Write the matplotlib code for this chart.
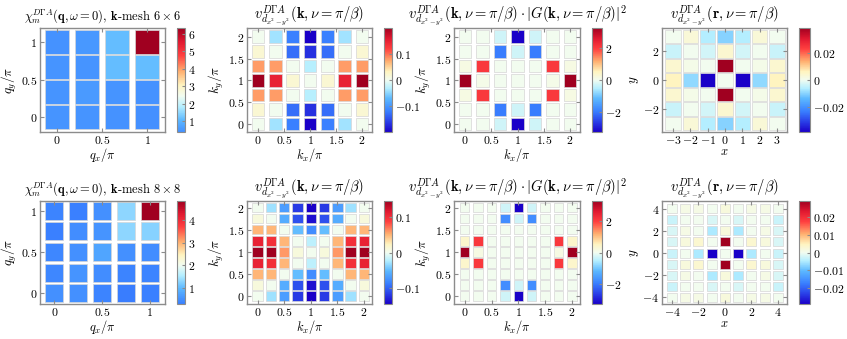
import numpy as np
import matplotlib
matplotlib.use("Agg")
import matplotlib.pyplot as plt
from matplotlib.colors import LinearSegmentedColormap, Normalize
from matplotlib.path import Path
from matplotlib.ticker import FuncFormatter

plt.rcParams['mathtext.fontset'] = 'cm'
plt.rcParams['font.family'] = 'serif'
plt.rcParams['font.serif'] = ['cmr10', 'DejaVu Serif']

# ---- data (rows listed top -> bottom, as seen in the picture) ----
q6 = [0, 1/3, 2/3, 1]
chi6 = [[0.40, 0.50, 1.10, 6.34],
        [0.45, 0.45, 1.10, 1.10],
        [0.45, 0.55, 0.45, 0.42],
        [0.45, 0.45, 0.42, 0.37]]

k6 = [0, 1/3, 2/3, 1, 4/3, 5/3, 2]
v6 = [[0.00, -0.04, -0.12, -0.20, -0.12, -0.04, 0.00],
      [0.02, 0.00, -0.13, -0.17, -0.13, 0.00, 0.02],
      [0.08, 0.08, 0.00, -0.03, 0.00, 0.08, 0.08],
      [0.20, 0.15, 0.02, 0.00, 0.02, 0.15, 0.20],
      [0.08, 0.08, 0.00, -0.03, 0.00, 0.08, 0.08],
      [0.02, 0.00, -0.13, -0.17, -0.13, 0.00, 0.02],
      [0.00, -0.04, -0.12, -0.20, -0.12, -0.04, 0.00]]

vg6 = [[0.0, 0.0, -0.3, -3.3, -0.3, 0.0, 0.0],
       [0.0, 0.0, -2.0, -0.3, -2.0, 0.0, 0.0],
       [0.15, 2.1, 0.0, 0.0, 0.0, 2.1, 0.15],
       [3.3, 0.1, 0.0, 0.0, 0.0, 0.1, 3.3],
       [0.15, 2.1, 0.0, 0.0, 0.0, 2.1, 0.15],
       [0.0, 0.0, -2.0, -0.3, -2.0, 0.0, 0.0],
       [0.0, 0.0, -0.3, -3.3, -0.3, 0.0, 0.0]]

r6 = [-3, -2, -1, 0, 1, 2, 3]
vr6 = [[0.000, 0.003, -0.006, -0.010, -0.006, 0.003, 0.000],
       [-0.004, 0.000, -0.003, 0.004, -0.003, 0.000, -0.004],
       [0.004, 0.001, 0.000, 0.038, 0.000, 0.001, 0.004],
       [0.006, -0.009, -0.038, 0.000, -0.038, -0.009, 0.006],
       [0.004, 0.001, 0.000, 0.038, 0.000, 0.001, 0.004],
       [-0.004, 0.000, -0.003, 0.004, -0.003, 0.000, -0.004],
       [0.000, 0.003, -0.006, -0.010, -0.006, 0.003, 0.000]]

q8 = [0, 0.25, 0.5, 0.75, 1]
chi8 = [[0.35, 0.30, 0.50, 1.30, 4.84],
        [0.30, 0.45, 0.55, 1.30, 1.25],
        [0.40, 0.50, 0.75, 0.50, 0.45],
        [0.40, 0.55, 0.45, 0.35, 0.35],
        [0.50, 0.50, 0.35, 0.29, 0.30]]

k8 = [0, 0.25, 0.5, 0.75, 1, 1.25, 1.5, 1.75, 2]
v8 = [[0.00, -0.03, -0.07, -0.12, -0.147, -0.12, -0.07, -0.03, 0.00],
      [0.01, 0.00, -0.06, -0.11, -0.14, -0.11, -0.06, 0.00, 0.01],
      [0.05, 0.05, 0.00, -0.05, -0.08, -0.05, 0.00, 0.05, 0.05],
      [0.11, 0.10, 0.05, 0.00, -0.02, 0.00, 0.05, 0.10, 0.11],
      [0.147, 0.147, 0.06, 0.01, 0.00, 0.01, 0.06, 0.147, 0.147],
      [0.11, 0.10, 0.05, 0.00, -0.02, 0.00, 0.05, 0.10, 0.11],
      [0.05, 0.05, 0.00, -0.05, -0.08, -0.05, 0.00, 0.05, 0.05],
      [0.01, 0.00, -0.06, -0.11, -0.14, -0.11, -0.06, 0.00, 0.01],
      [0.00, -0.03, -0.07, -0.12, -0.147, -0.12, -0.07, -0.03, 0.00]]

vg8 = [[0, 0, 0, -0.3, -3.3, -0.3, 0, 0, 0],
       [0, 0, 0, -1.8, -0.3, -1.8, 0, 0, 0],
       [0, 0, 0, 0, 0, 0, 0, 0, 0],
       [0.4, 2.1, 0, 0, 0, 0, 0, 2.1, 0.4],
       [3.3, 0.15, 0, 0, 0, 0, 0, 0.15, 3.3],
       [0.4, 2.1, 0, 0, 0, 0, 0, 2.1, 0.4],
       [0, 0, 0, 0, 0, 0, 0, 0, 0],
       [0, 0, 0, -1.8, -0.3, -1.8, 0, 0, 0],
       [0, 0, 0, -0.3, -3.3, -0.3, 0, 0, 0]]

r8 = [-4, -3, -2, -1, 0, 1, 2, 3, 4]
vr8 = [[0.000, 0.001, 0.001, 0.000, 0.002, 0.000, 0.001, 0.001, 0.000],
       [-0.003, 0.000, 0.000, -0.002, 0.000, -0.002, 0.000, 0.000, -0.003],
       [-0.002, 0.001, 0.000, -0.005, 0.002, -0.005, 0.000, 0.001, -0.002],
       [-0.002, 0.002, 0.003, 0.000, 0.029, 0.000, 0.003, 0.002, -0.002],
       [-0.003, 0.000, -0.005, -0.029, 0.000, -0.029, -0.005, 0.000, -0.003],
       [-0.002, 0.002, 0.003, 0.000, 0.029, 0.000, 0.003, 0.002, -0.002],
       [-0.002, 0.001, 0.000, -0.005, 0.002, -0.005, 0.000, 0.001, -0.002],
       [-0.003, 0.000, 0.000, -0.002, 0.000, -0.002, 0.000, 0.000, -0.003],
       [0.000, 0.001, 0.001, 0.000, 0.002, 0.000, 0.001, 0.001, 0.000]]

cmap = LinearSegmentedColormap.from_list("dga", [
    (0.00, "#1a00c8"), (0.10, "#2a40e8"), (0.20, "#3a80ff"),
    (0.32, "#5cb8ff"), (0.42, "#b4eeff"), (0.50, "#f2fcf0"),
    (0.58, "#fff4c0"), (0.68, "#ffb070"), (0.80, "#ff4040"),
    (0.90, "#e01830"), (1.00, "#a00020")])

GRAY = "#8c8c8c"
W, H = 847, 339
fig = plt.figure(figsize=(W / 100, H / 100), dpi=100)

cols = [(40, 165, 177, 8), (247, 372, 384, 8), (454, 580, 592, 10), (662, 787, 799, 11)]
rows = [(28, 132), (201, 304)]


def fmt(v, pos=None):
    return f"${v:g}$"


def panel(ci, ri, xs, ys, Z, norm, crange, wh, xlim, ylim, xticks, yticks,
          xlabel, ylabel, title, tsize, cticks):
    x0, x1, cx, cw = cols[ci]
    y0, y1 = rows[ri]
    ax = fig.add_axes([x0 / W, (H - y1) / H, (x1 - x0) / W, (y1 - y0) / H])
    cax = fig.add_axes([cx / W, (H - y1) / H, cw / W, (y1 - y0) / H])
    X, Y = np.meshgrid(xs, ys[::-1])
    w, h = wh
    marker = Path([(-w, -h), (w, -h), (w, h), (-w, h), (-w, -h)], closed=True)
    size = max(w, h) * 0.72
    sc = ax.scatter(X.ravel(), Y.ravel(), c=np.array(Z).ravel(), cmap=cmap,
                    norm=norm, marker=marker, s=size ** 2,
                    edgecolors="#d6d6d6", linewidths=0.5)
    ax.set_xlim(*xlim)
    ax.set_ylim(*ylim)
    ax.set_xticks(xticks)
    ax.set_yticks(yticks)
    ax.xaxis.set_major_formatter(FuncFormatter(fmt))
    ax.yaxis.set_major_formatter(FuncFormatter(fmt))
    ax.tick_params(direction="in", top=True, right=True, length=3,
                   color=GRAY, labelsize=8.5, pad=2)
    ax.tick_params(axis="x", pad=1.5)
    for sp in ax.spines.values():
        sp.set_color(GRAY)
        sp.set_linewidth(1)
    ax.set_xlabel(xlabel, fontsize=9, labelpad=0)
    ax.set_ylabel(ylabel, fontsize=9.5, labelpad=1)
    ax.set_title(title, fontsize=tsize, pad=6)
    cb = fig.colorbar(sc, cax=cax, boundaries=np.linspace(crange[0], crange[1], 257),
                      ticks=cticks, format=FuncFormatter(fmt))
    cb.outline.set_edgecolor(GRAY)
    cb.outline.set_linewidth(0.8)
    cax.tick_params(direction="in", length=2, color=GRAY, labelsize=8.5, pad=2)


t_chi6 = r"$\chi_m^{D\Gamma A}(\mathbf{q},\omega=0)$, $\mathbf{k}$-mesh $6\times 6$"
t_chi8 = r"$\chi_m^{D\Gamma A}(\mathbf{q},\omega=0)$, $\mathbf{k}$-mesh $8\times 8$"
t_vk = r"$v^{D\Gamma A}_{d_{x^2-y^2}}(\mathbf{k},\nu=\pi/\beta)$"
t_vg = r"$v^{D\Gamma A}_{d_{x^2-y^2}}(\mathbf{k},\nu=\pi/\beta)\cdot|G(\mathbf{k},\nu=\pi/\beta)|^2$"
t_vr = r"$v^{D\Gamma A}_{d_{x^2-y^2}}(\mathbf{r},\nu=\pi/\beta)$"

kt = [0, 0.5, 1, 1.5, 2]

# row 1: 6x6 mesh
panel(0, 0, q6, q6, chi6, Normalize(-1.46, 6.34), (0.37, 6.34), (23.5, 23.5),
      (-0.19, 1.2), (-0.2, 1.19), [0, 0.5, 1], [0, 0.5, 1],
      r"$q_x/\pi$", r"$q_y/\pi$", t_chi6, 9, [1, 2, 3, 4, 5, 6])
panel(1, 0, k6, k6, v6, Normalize(-0.2, 0.2), (-0.2, 0.2), (12.5, 12.5),
      (-0.21, 2.19), (-0.18, 2.2), kt, kt,
      r"$k_x/\pi$", r"$k_y/\pi$", t_vk, 10.5, [-0.1, 0, 0.1])
panel(2, 0, k6, k6, vg6, Normalize(-3.3, 3.3), (-3.3, 3.3), (12.5, 12.5),
      (-0.21, 2.19), (-0.18, 2.2), kt, kt,
      r"$k_x/\pi$", r"$k_y/\pi$", t_vg, 10.5, [-2, 0, 2])
panel(3, 0, r6, r6, vr6, Normalize(-0.038, 0.038), (-0.038, 0.038), (15.5, 13.5),
      (-3.64, 3.58), (-3.59, 3.59), r6, [-2, 0, 2],
      r"$x$", r"$y$", t_vr, 10.5, [-0.02, 0, 0.02])

# row 2: 8x8 mesh
panel(0, 1, q8, q8, chi8, Normalize(-0.84, 4.84), (0.29, 4.84), (18, 18),
      (-0.15, 1.16), (-0.13, 1.12), [0, 0.5, 1], [0, 0.5, 1],
      r"$q_x/\pi$", r"$q_y/\pi$", t_chi8, 9, [1, 2, 3, 4])
panel(1, 1, k8, k8, v8, Normalize(-0.147, 0.147), (-0.147, 0.147), (10.5, 9.5),
      (-0.2, 2.15), (-0.18, 2.15), kt, kt,
      r"$k_x/\pi$", r"$k_y/\pi$", t_vk, 10.5, [-0.1, 0, 0.1])
panel(2, 1, k8, k8, vg8, Normalize(-3.3, 3.3), (-3.3, 3.3), (9.5, 9.5),
      (-0.2, 2.15), (-0.18, 2.15), kt, kt,
      r"$k_x/\pi$", r"$k_y/\pi$", t_vg, 10.5, [-2, 0, 2])
panel(3, 1, r8, r8, vr8, Normalize(-0.029, 0.029), (-0.029, 0.029), (10, 9),
      (-4.75, 4.68), (-4.6, 4.7), [-4, -2, 0, 2, 4], [-4, -2, 0, 2, 4],
      r"$x$", r"$y$", t_vr, 10.5, [-0.02, -0.01, 0, 0.01, 0.02])

fig.savefig("out.png", dpi=100)
